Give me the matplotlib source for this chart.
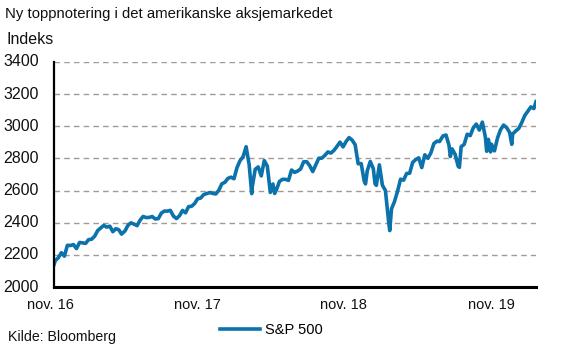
import matplotlib
matplotlib.use("Agg")
import matplotlib.pyplot as plt
import pandas as pd

# S&P 500 closing levels (weekly closes plus notable intra-week extremes)
dates = [
    "2016-11-08", "2016-11-11", "2016-11-18", "2016-11-25", "2016-12-02", "2016-12-09",
    "2016-12-16", "2016-12-23", "2016-12-30",
    "2017-01-06", "2017-01-13", "2017-01-20", "2017-01-27", "2017-02-03", "2017-02-10",
    "2017-02-17", "2017-02-24", "2017-03-03", "2017-03-10", "2017-03-17", "2017-03-24",
    "2017-03-31", "2017-04-07", "2017-04-13", "2017-04-21", "2017-04-28", "2017-05-05",
    "2017-05-12", "2017-05-19", "2017-05-26", "2017-06-02", "2017-06-09", "2017-06-16",
    "2017-06-23", "2017-06-30", "2017-07-07", "2017-07-14", "2017-07-21", "2017-07-28",
    "2017-08-04", "2017-08-11", "2017-08-18", "2017-08-25", "2017-09-01", "2017-09-08",
    "2017-09-15", "2017-09-22", "2017-09-29", "2017-10-06", "2017-10-13", "2017-10-20",
    "2017-10-27", "2017-11-03", "2017-11-10", "2017-11-17", "2017-11-24", "2017-12-01",
    "2017-12-08", "2017-12-15", "2017-12-22", "2017-12-29",
    "2018-01-05", "2018-01-12", "2018-01-19", "2018-01-26", "2018-02-02", "2018-02-08",
    "2018-02-09", "2018-02-16", "2018-02-23", "2018-03-02", "2018-03-09", "2018-03-16",
    "2018-03-23", "2018-03-29", "2018-04-02", "2018-04-06", "2018-04-13", "2018-04-20",
    "2018-04-27", "2018-05-04", "2018-05-11", "2018-05-18", "2018-05-25", "2018-06-01",
    "2018-06-08", "2018-06-15", "2018-06-22", "2018-06-29", "2018-07-06", "2018-07-13",
    "2018-07-20", "2018-07-27", "2018-08-03", "2018-08-10", "2018-08-17", "2018-08-24",
    "2018-08-31", "2018-09-07", "2018-09-14", "2018-09-21", "2018-09-28", "2018-10-05",
    "2018-10-12", "2018-10-19", "2018-10-26", "2018-10-29", "2018-11-02", "2018-11-09",
    "2018-11-16", "2018-11-20", "2018-11-23", "2018-11-30", "2018-12-07", "2018-12-14",
    "2018-12-21", "2018-12-24", "2018-12-28",
    "2019-01-04", "2019-01-11", "2019-01-18", "2019-01-25", "2019-02-01", "2019-02-08",
    "2019-02-15", "2019-02-22", "2019-03-01", "2019-03-08", "2019-03-15", "2019-03-22",
    "2019-03-29", "2019-04-05", "2019-04-12", "2019-04-18", "2019-04-26", "2019-05-03",
    "2019-05-10", "2019-05-13", "2019-05-17", "2019-05-24", "2019-05-31", "2019-06-03",
    "2019-06-07", "2019-06-14", "2019-06-21", "2019-06-28", "2019-07-05", "2019-07-12",
    "2019-07-19", "2019-07-26", "2019-08-02", "2019-08-05", "2019-08-09", "2019-08-14",
    "2019-08-16", "2019-08-23", "2019-08-30", "2019-09-06", "2019-09-13", "2019-09-20",
    "2019-09-27", "2019-10-02", "2019-10-04", "2019-10-11", "2019-10-18", "2019-10-25",
    "2019-11-01", "2019-11-08", "2019-11-15", "2019-11-22", "2019-11-27",
]
close = [
    2139.6, 2164.5, 2181.9, 2213.4, 2191.9, 2259.5,
    2258.1, 2263.8, 2238.8,
    2277.0, 2274.6, 2271.3, 2294.7, 2297.4, 2316.1,
    2351.2, 2367.3, 2383.1, 2372.6, 2378.3, 2344.0,
    2362.7, 2355.5, 2329.0, 2348.7, 2384.2, 2399.3,
    2390.9, 2381.7, 2415.8, 2439.1, 2431.8, 2433.2,
    2438.3, 2423.4, 2425.2, 2459.3, 2472.5, 2472.1,
    2476.8, 2441.3, 2425.6, 2443.1, 2476.6, 2461.4,
    2500.2, 2502.2, 2519.4, 2549.3, 2553.2, 2575.2,
    2581.1, 2587.8, 2582.3, 2578.9, 2602.4, 2642.2,
    2651.5, 2675.8, 2683.3, 2673.6,
    2743.2, 2786.2, 2810.3, 2872.9, 2762.1, 2581.0,
    2619.6, 2732.2, 2747.3, 2691.3, 2786.6, 2752.0,
    2588.3, 2640.9, 2581.9, 2604.5, 2656.3, 2670.1,
    2669.9, 2663.4, 2727.7, 2713.0, 2721.3, 2734.6,
    2779.0, 2779.7, 2754.9, 2718.4, 2759.8, 2801.3,
    2801.8, 2818.8, 2840.4, 2833.3, 2850.1, 2874.7,
    2901.5, 2871.7, 2905.0, 2929.7, 2914.0, 2885.6,
    2767.1, 2767.8, 2658.7, 2641.3, 2723.1, 2781.0,
    2736.3, 2641.9, 2632.6, 2760.2, 2633.1, 2600.0,
    2416.6, 2351.1, 2485.7,
    2531.9, 2596.3, 2670.7, 2664.8, 2706.5, 2707.9,
    2775.6, 2792.7, 2803.7, 2743.1, 2822.5, 2800.7,
    2834.4, 2892.7, 2907.4, 2905.0, 2939.9, 2945.6,
    2881.4, 2811.9, 2859.5, 2826.1, 2752.1, 2744.5,
    2873.3, 2887.0, 2950.5, 2941.8, 2990.4, 3013.8,
    2976.6, 3025.9, 2932.1, 2844.7, 2918.7, 2840.6,
    2888.7, 2847.1, 2926.5, 2978.7, 3007.4, 2992.1,
    2961.8, 2887.6, 2952.0, 2970.3, 2986.2, 3022.6,
    3066.9, 3093.1, 3120.5, 3110.3, 3153.6,
]

y_ticks = [2000, 2200, 2400, 2600, 2800, 3000, 3200, 3400]
x_labels = ["nov. 16", "nov. 17", "nov. 18", "nov. 19"]

title = "Ny toppnotering i det amerikanske aksjemarkedet"
unit = "Indeks"
source = "Kilde: Bloomberg"
series_name = "S&P 500"

LINE = "#0b72ac"
GRID = "#a39a92"
TEXT = "#111111"
FONT = "Liberation Sans"

plt.rcParams["font.family"] = [FONT, "DejaVu Sans"]

x = pd.to_datetime(dates)

fig = plt.figure(figsize=(5.61, 3.49), dpi=100)
ax = fig.add_axes([54 / 561, 1 - 287 / 349, 482 / 561, 225 / 349])

line, = ax.plot(x, close, color=LINE, lw=2.6, solid_joinstyle="round", label=series_name)

ax.set_xlim(x[0], x[-1])
ax.set_ylim(y_ticks[0], y_ticks[-1])
ax.set_yticks(y_ticks)
ax.set_yticklabels([])
ax.tick_params(left=False, bottom=False, labelbottom=False)

for yv in y_ticks[1:]:
    ax.axhline(yv, color=GRID, lw=1.0, dashes=(4, 3), zorder=0)

for side in ("top", "right"):
    ax.spines[side].set_visible(False)
ax.spines["left"].set_linewidth(1.6)
ax.spines["bottom"].set_linewidth(2.2)
ax.spines["left"].set_color("black")
ax.spines["bottom"].set_color("black")

# y tick labels, left-aligned at the figure margin
for yv in y_ticks:
    ypix = ax.transData.transform((0, yv))[1]
    fig.text(3 / 561, ypix / 349, f"{yv}", ha="left", va="center",
             fontsize=11.5, color=TEXT)

# date labels along the bottom axis
for frac, lab in zip([-0.008, 0.2967, 0.5996, 0.9066], x_labels):
    ax.text(frac, -0.082, lab, transform=ax.transAxes, ha="center", va="center",
            fontsize=10.5, color=TEXT)

fig.text(5 / 561, 1 - 14 / 349, title, ha="left", va="center", fontsize=10.7, color=TEXT)
fig.text(7 / 561, 1 - 40 / 349, unit, ha="left", va="center", fontsize=11.5, color=TEXT)
fig.text(8 / 561, 1 - 337 / 349, source, ha="left", va="center", fontsize=10.2, color=TEXT)

fig.legend(handles=[line], loc="center", bbox_to_anchor=(271 / 561, 1 - 330 / 349),
           frameon=False, fontsize=10.5, handlelength=2.8, handletextpad=0.3,
           borderpad=0, borderaxespad=0)

fig.savefig("out.png", dpi=100)
